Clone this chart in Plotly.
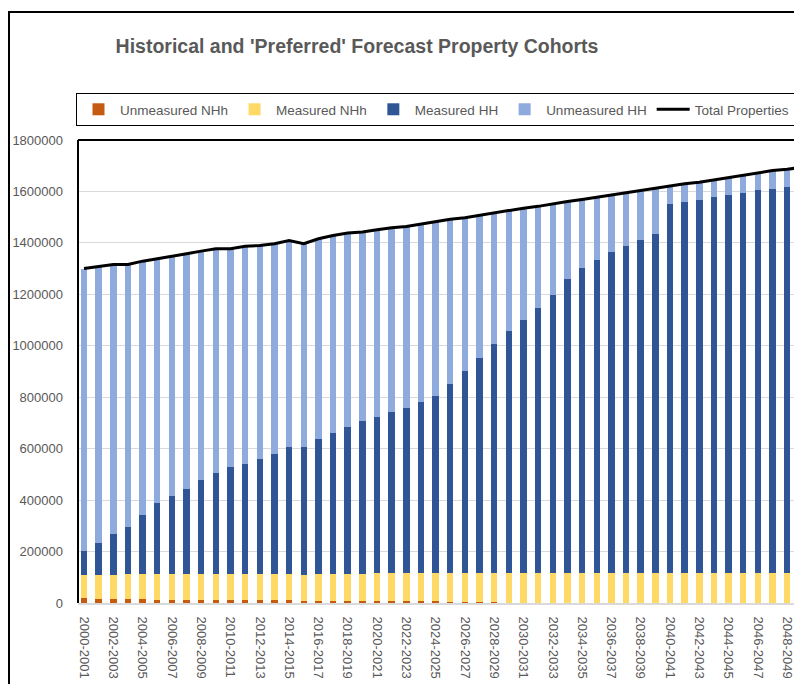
import plotly.graph_objects as go

categories = [f"{y}-{y+1}" for y in range(2000, 2050)]

unmeasured_nhh = [21000, 17000, 17000, 14000, 14000,
                  10000, 10000, 10000, 10000, 10000, 10000, 10000, 10000, 10000, 10000,
                  8000, 8000, 8000, 8000, 8000, 8000, 8000,
                  6000, 6000, 6000, 5000, 4000, 4000, 4000,
                  0, 0, 0, 0, 0, 0, 0, 0, 0, 0, 0, 0, 0, 0, 0, 0, 0, 0, 0, 0, 0]

measured_nhh = [87000, 91000, 93000, 100000, 97000, 102000, 102000, 104000, 104000, 104000,
                104000, 104000, 104000, 104000, 104000, 100000, 103000, 106000, 106000, 106000,
                108000, 108000, 110000, 110000, 110000, 112000, 113000, 113000, 113000, 117000,
                117000, 117000, 117000, 117000, 117000, 117000, 117000, 117000, 117000, 117000,
                117000, 117000, 117000, 117000, 117000, 117000, 117000, 117000, 117000, 117000]

measured_hh = [94000, 125000, 159000, 180000, 233000, 275000, 305000, 331000, 364000, 392000,
               413000, 428000, 445000, 467000, 491000, 497000, 526000, 548000, 571000, 592000,
               607000, 626000, 644000, 665000, 687000, 735000, 785000, 836000, 888000, 939000,
               985000, 1030000, 1080000, 1142000, 1184000, 1218000, 1246000, 1272000, 1296000, 1319000,
               1435000, 1441000, 1451000, 1461000, 1469000, 1478000, 1487000, 1493000, 1502000, 1510000]

unmeasured_hh = [1098000, 1075000, 1047000, 1022000, 985000, 951000, 930000, 913000, 890000, 871000,
                 850000, 845000, 831000, 816000, 804000, 792000, 779000, 767000, 753000, 736000,
                 728000, 717000, 704000, 693000, 680000, 640000, 596000, 555000, 513000, 470000,
                 433000, 395000, 355000, 302000, 268000, 243000, 224000, 206000, 191000, 177000,
                 71000, 72000, 68000, 67000, 69000, 70000, 70000, 71000, 67000, 67000]

total_properties = [1300000, 1308000, 1316000, 1316000, 1329000, 1338000, 1347000, 1358000, 1368000, 1377000,
                    1377000, 1387000, 1390000, 1397000, 1409000, 1397000, 1416000, 1429000, 1438000, 1442000,
                    1451000, 1459000, 1464000, 1474000, 1483000, 1492000, 1498000, 1508000, 1518000, 1526000,
                    1535000, 1542000, 1552000, 1561000, 1569000, 1578000, 1587000, 1595000, 1604000, 1613000,
                    1623000, 1630000, 1636000, 1645000, 1655000, 1665000, 1674000, 1681000, 1686000, 1694000]

y_ticks = [0, 200000, 400000, 600000, 800000, 1000000, 1200000, 1400000, 1600000, 1800000]
x_tick_labels = categories[::2]

FONT = "Liberation Sans"
GREY = "#595959"

fig = go.Figure()
fig.add_trace(go.Bar(x=categories, y=unmeasured_nhh, name="Unmeasured NHh", marker_color="#C55A11", marker_line_width=0))
fig.add_trace(go.Bar(x=categories, y=measured_nhh, name="Measured NHh", marker_color="#FFD966", marker_line_width=0))
fig.add_trace(go.Bar(x=categories, y=measured_hh, name="Measured HH", marker_color="#2F5597", marker_line_width=0))
fig.add_trace(go.Bar(x=categories, y=unmeasured_hh, name="Unmeasured HH", marker_color="#8FAADC", marker_line_width=0))
fig.add_trace(go.Scatter(x=categories, y=total_properties, name="Total Properties", mode="lines",
                         line=dict(color="black", width=3), cliponaxis=True))

# page body has an 8px margin: figure coords = screen coords - 8
OFF = 8
W, H = 802 - OFF, 684 - OFF
L, R, T, B = 78 - OFF, 0, 140 - OFF, 684 - 603
pw, ph = W - L - R, H - T - B

def px(xs):
    return (xs - OFF - L) / pw

def py(ys):
    return (H - B - (ys - OFF)) / ph

fig.update_layout(
    width=W, height=H,
    margin=dict(l=L, r=R, t=T, b=B, pad=0),
    barmode="stack",
    bargap=0.56,
    paper_bgcolor="white",
    plot_bgcolor="white",
    font=dict(family=FONT, size=13, color=GREY),
    title=dict(text="<b>Historical and 'Preferred' Forecast Property Cohorts</b>",
               xref="container", x=(357 - OFF) / W, xanchor="center",
               yref="container", y=1 - (46 - OFF) / H, yanchor="middle",
               font=dict(family=FONT, size=19.5, color=GREY)),
    legend=dict(orientation="h", x=px(76), xanchor="left", y=py(93), yanchor="top",
                bordercolor="black", borderwidth=1, bgcolor="white",
                font=dict(family=FONT, size=13.5, color=GREY), traceorder="normal",
                itemwidth=33),
    xaxis=dict(type="category", range=[-0.41, 49.01], tickmode="array",
               tickvals=x_tick_labels, ticktext=x_tick_labels, tickangle=90,
               showline=True, linecolor="#d9d9d9", linewidth=2, ticks="",
               tickfont=dict(family=FONT, size=13, color=GREY), showgrid=False,
               ticklabelstandoff=9),
    yaxis=dict(range=[0, 1800000], tickmode="array", tickvals=y_ticks,
               ticktext=[str(v) for v in y_ticks],
               showgrid=True, gridcolor="#d9d9d9", gridwidth=1, zeroline=False,
               tickfont=dict(family=FONT, size=13, color=GREY), ticks="",
               ticklabelstandoff=14),
    shapes=[
        # outer chart border (cropped on right/bottom)
        dict(type="rect", xref="paper", yref="paper", x0=px(9), x1=px(900), y0=py(800), y1=py(12),
             line=dict(color="black", width=2), fillcolor="rgba(0,0,0,0)", layer="above"),
        # plot area top and left border
        dict(type="line", xref="paper", yref="paper", x0=0, x1=1.2, y0=1, y1=1,
             line=dict(color="black", width=2), layer="above"),
        dict(type="line", xref="paper", yref="paper", x0=0, x1=0, y0=0, y1=1,
             line=dict(color="black", width=2), layer="above"),
    ],
)

fig.write_html("out.html")
